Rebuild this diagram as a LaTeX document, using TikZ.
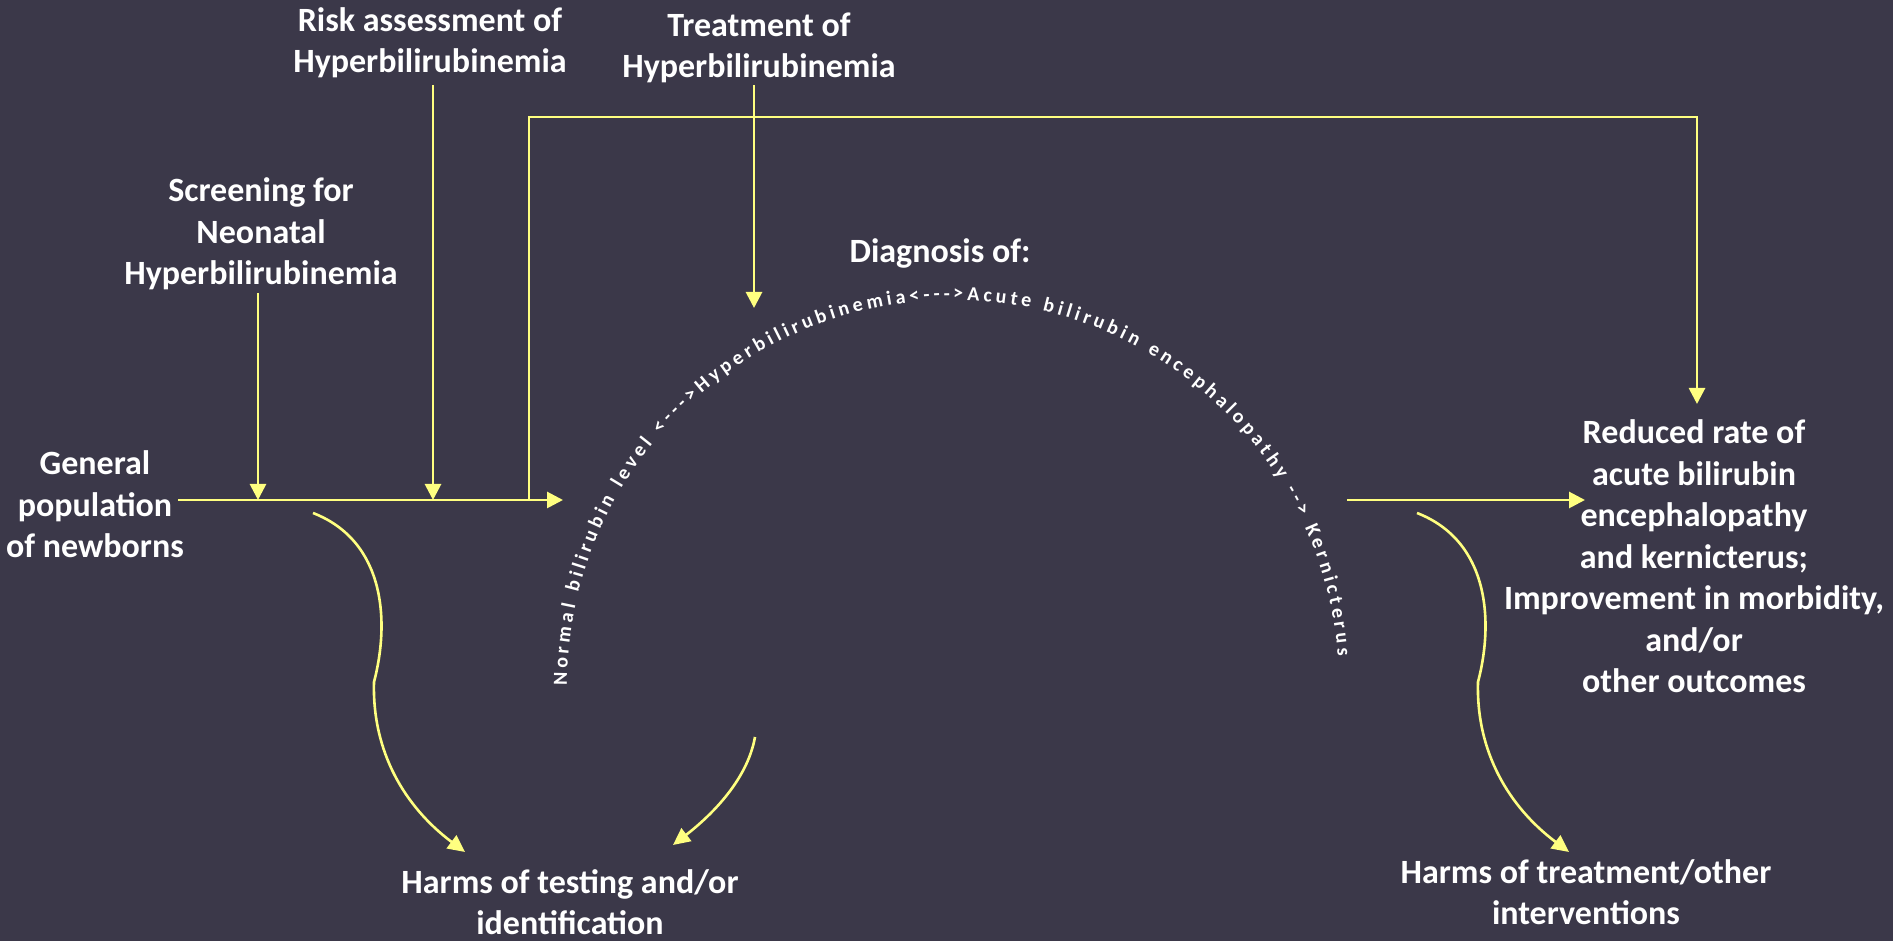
\documentclass[tikz,border=0pt]{standalone}
\usepackage{fontspec}
\setmainfont{Carlito}
\usetikzlibrary{arrows.meta,decorations.text}
\definecolor{bg}{HTML}{3B3849}
\definecolor{ylw}{HTML}{FFFF80}
\newcommand{\arcfnt}{\fontsize{20}{24}\selectfont\bfseries\color{white}}
\begin{document}
\begin{tikzpicture}[x=1pt,y=1pt,
  lbl/.style={text=white, font=\fontsize{34}{41.5}\selectfont\bfseries, align=center, inner sep=0pt, anchor=base},
  conn/.style={draw=ylw, line width=2.8pt},
  arr/.style={conn, -{Triangle[length=16pt,width=16pt]}},
  carr/.style={draw=ylw, line width=2.6pt, -{Triangle[length=17pt,width=16pt]}}]
\fill[bg] (0,0) rectangle (1893,941);
\useasboundingbox (0,0) rectangle (1893,941);

% text nodes (anchor = baseline of last line)
\node[lbl] (risk) at (430,868) {Risk assessment of\\Hyperbilirubinemia};
\node[lbl] (treat) at (759,863) {Treatment of\\Hyperbilirubinemia};
\node[lbl] (screen) at (261,656) {Screening for\\Neonatal\\Hyperbilirubinemia};
\node[lbl] (gen) at (95,383) {General\\population\\of newborns};
\node[lbl] (diag) at (940,678) {Diagnosis of:};
\node[lbl] (red) at (1694,248) {Reduced rate of\\acute bilirubin\\encephalopathy\\and kernicterus;\\Improvement in morbidity,\\and/or\\other outcomes};
\node[lbl] (htest) at (570,6) {Harms of testing and/or\\identification};
\node[lbl] (htreat) at (1586,16) {Harms of treatment/other\\interventions};

% connector points
\coordinate (genR) at (178,441);
\coordinate (arcL) at (563,441);
\coordinate (scrB) at (258,648);
\coordinate (scrJ) at (258,441);
\coordinate (riskB) at (433,856);
\coordinate (riskJ) at (433,441);
\coordinate (loopJ) at (529,441);
\coordinate (loopA) at (529,824);
\coordinate (loopB) at (1697,824);
\coordinate (redT) at (1697,537);
\coordinate (treatB) at (754,856);
\coordinate (arcT) at (754,633);
\coordinate (arcR) at (1347,441);
\coordinate (redL) at (1585,441);
\coordinate (c1s) at (313,428);
\coordinate (c1k) at (374,259);
\coordinate (htestL) at (465,89);
\coordinate (c2s) at (755,204);
\coordinate (htestR) at (673,96);
\coordinate (c3s) at (1417,428);
\coordinate (c3k) at (1478,259);
\coordinate (htreatT) at (1569,89);
\coordinate (arcC) at (953,255);

% straight connectors
\draw[arr] (genR) -- (arcL);
\draw[arr] (scrB) -- (scrJ);
\draw[arr] (riskB) -- (riskJ);
\draw[arr] (loopJ) -- (loopA) -- (loopB) -- (redT);
\draw[arr] (treatB) -- (arcT);
\draw[arr] (arcR) -- (redL);

% curved connectors
\draw[carr] (c1s) .. controls (385,400) and (390,320) .. (c1k)
  .. controls (372,189) and (405,134) .. (htestL);
\draw[carr] (c2s) .. controls (747,159) and (708,123) .. (htestR);
\draw[carr] (c3s) .. controls (1489,400) and (1494,320) .. (c3k)
  .. controls (1476,189) and (1509,134) .. (htreatT);

% arched text
\path[decorate, decoration={text along path,
  text={|\arcfnt|Normal bilirubin level <--->Hyperbilirubinemia<--->Acute bilirubin encephalopathy --> Kernicterus},
  text align={fit to path}}]
  ([shift={(180:386)}]arcC) arc[start angle=180, end angle=4.5, radius=386];
\end{tikzpicture}
\end{document}
